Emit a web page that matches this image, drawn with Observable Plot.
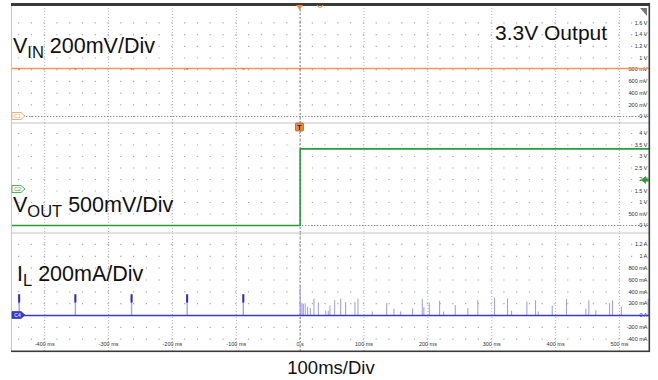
<!DOCTYPE html>
<html><head><meta charset="utf-8">
<script src="https://cdn.jsdelivr.net/npm/d3@7"></script>
<script src="https://cdn.jsdelivr.net/npm/@observablehq/plot@0.6"></script>
<style>
body{margin:0;background:#fff;font-family:"Liberation Sans",Arial,sans-serif;}
#wrap{position:relative;width:658px;height:380px;overflow:hidden;background:#fff;}
</style></head><body><div id="wrap"></div>
<script>
// ---------- data ----------
const timeDomain = [-452, 547];
const timeTicks = [-400, -300, -200, -100, 0, 100, 200, 300, 400, 500];
const timeTickLabels = ["-400 ms", "-300 ms", "-200 ms", "-100 ms", "0 s", "100 ms", "200 ms", "300 ms", "400 ms", "500 ms"];

const vinTicks = [0, 0.2, 0.4, 0.6, 0.8, 1.0, 1.2, 1.4, 1.6];
const vinTickLabels = ["0 V", "200 mV", "400 mV", "600 mV", "800 mV", "1 V", "1.2 V", "1.4 V", "1.6 V"];
const vinTimes = [-452, 547];
const vinValues = [0.82, 0.82];
const vinDipTimes = [-440, -352, -264, -177, -89, 0];
const vinDipLow = 0.79;

const voutTicks = [0, 0.5, 1, 1.5, 2, 2.5, 3, 3.5, 4];
const voutTickLabels = ["0 V", "500 mV", "1 V", "1.5 V", "2 V", "2.5 V", "3 V", "3.5 V", "4 V"];
const voutTimes = [-452, 0, 0, 547];
const voutValues = [0, 0, 3.33, 3.33];

const ilTicks = [-0.4, -0.2, 0, 0.2, 0.4, 0.6, 0.8, 1.0, 1.2];
const ilTickLabels = ["-400 mA", "-200 mA", "0 A", "200 mA", "400 mA", "600 mA", "800 mA", "1 A", "1.2 A"];
const ilPreSpikeTimes = [-440, -352, -264, -177, -89];
const ilPreSpikeHeights = [0.35, 0.35, 0.35, 0.35, 0.35];
const ilPreSpikeDarkFrom = 0.21;
const ilSpikeTimes = [0, 1, 3, 5, 8, 11.7, 16, 21.6, 28.5, 40, 44, 46.6, 54, 63.4, 71.2, 85.8, 90.5, 113, 135.4, 146.8, 157.3, 176, 191.2, 193.7, 202.2, 218.3, 224.6, 242.9, 262.6, 278.2, 304.4, 324.7, 331, 355, 368.5, 372.8, 394.7, 417, 447.3, 452, 463, 484.4, 489, 503, 545];
const ilSpikeHeights = [0.50, 0.21, 0.20, 0.19, 0.20, 0.14, 0.12, 0.28, 0.21, 0.07, 0.07, 0.16, 0.25, 0.28, 0.22, 0.22, 0.28, 0.06, 0.20, 0.11, 0.06, 0.11, 0.27, 0.13, 0.21, 0.24, 0.06, 0.17, 0.12, 0.25, 0.29, 0.28, 0.07, 0.23, 0.25, 0.06, 0.16, 0.27, 0.11, 0.25, 0.08, 0.20, 0.25, 0.14, 0.27];

// ---------- colors ----------
const ORANGE = "#f4975c", GREEN = "#2a9c38", BLUE = "#3a3ac6", SPIKE = "#a3a3ea";

const wrap = document.getElementById("wrap");
const W = 658, ML = 11, MR = 9;

function panel({top, height, marginTop = 0, yDomain, ticks, labels, marks, showTime}) {
  const svg = Plot.plot({
    width: W, height, marginLeft: ML, marginRight: MR, marginTop, marginBottom: 0,
    x: {domain: timeDomain, axis: null},
    y: {domain: yDomain, axis: null},
    style: {background: "transparent", fontFamily: "'Liberation Sans', Arial, sans-serif", overflow: "visible"},
    marks: [
      Plot.gridY(ticks, {stroke: "#a8a8a8", strokeOpacity: 1, strokeWidth: 1.2, strokeDasharray: "1.2,11.57", strokeDashoffset: 5.7}),
      Plot.gridX(timeTicks, {stroke: "#b8b8b8", strokeOpacity: 1, strokeWidth: 1, strokeDasharray: "1,2"}),
      Plot.ruleX([0], {stroke: "#888", strokeDasharray: "2,2"}),
      Plot.text(ticks, {y: d => d, text: (d, i) => labels[i], frameAnchor: "right", textAnchor: "end", dx: -2, fontSize: 5.5, fill: "#333"}),
      showTime ? Plot.text(timeTicks, {x: d => d, text: (d, i) => timeTickLabels[i], frameAnchor: "bottom", dy: -6, fontSize: 5.5, fill: "#333"}) : null,
      ...marks
    ]
  });
  svg.style.position = "absolute";
  svg.style.left = "0px";
  svg.style.top = top + "px";
  wrap.appendChild(svg);
}

// Panel 1: VIN
panel({
  top: 0, height: 123, marginTop: 5, yDomain: [-0.1197, 1.897], ticks: vinTicks, labels: vinTickLabels,
  marks: [
    Plot.ruleY([0], {stroke: "#8a8a8a", strokeDasharray: "1.3,1.7"}),
    Plot.line(vinTimes.map((t, i) => ({t, v: vinValues[i]})), {x: "t", y: "v", stroke: ORANGE, strokeWidth: 1.6}),
    Plot.ruleX(vinDipTimes, {x: d => d, y1: () => vinDipLow, y2: () => vinValues[0], stroke: "#e5793a", strokeWidth: 1.8})
  ]
});

// Panel 2: VOUT
panel({
  top: 123, height: 110, yDomain: [-0.348, 4.435], ticks: voutTicks, labels: voutTickLabels,
  marks: [
    Plot.ruleY([0], {stroke: "#8a8a8a", strokeDasharray: "1.3,1.7"}),
    Plot.line(voutTimes.map((t, i) => ({t, v: voutValues[i]})), {x: "t", y: "v", stroke: GREEN, strokeWidth: 1.6})
  ]
});

// Panel 3: IL
const preSpikes = ilPreSpikeTimes.map((t, i) => ({t, a: ilPreSpikeHeights[i]}));
const spikes = ilSpikeTimes.map((t, i) => ({t, a: ilSpikeHeights[i]}));
panel({
  top: 233, height: 118, yDomain: [-0.608, 1.385], ticks: ilTicks, labels: ilTickLabels, showTime: true,
  marks: [
    Plot.ruleX(spikes, {x: "t", y1: () => 0, y2: "a", stroke: SPIKE, strokeWidth: 1.1}),
    Plot.ruleX(preSpikes, {x: "t", y1: () => 0, y2: "a", stroke: SPIKE, strokeWidth: 1.4}),
    Plot.ruleX(preSpikes, {x: "t", y1: () => ilPreSpikeDarkFrom, y2: "a", stroke: "#2c2cb8", strokeWidth: 2}),
    Plot.ruleY([0], {stroke: BLUE, strokeWidth: 1.5})
  ]
});

// ---------- overlay: frame, markers, annotations ----------
const ov = d3.select(wrap).append("svg")
  .attr("width", W).attr("height", 380)
  .style("position", "absolute").style("left", "0px").style("top", "0px")
  .style("font-family", "'Liberation Sans', Arial, sans-serif");

ov.append("line").attr("x1", 11.5).attr("x2", 11.5).attr("y1", 5).attr("y2", 351).attr("stroke", "#c8c8c8");
ov.append("line").attr("x1", 11).attr("x2", 649).attr("y1", 123).attr("y2", 123).attr("stroke", "#c4c4c4");
ov.append("line").attr("x1", 11).attr("x2", 649).attr("y1", 233).attr("y2", 233).attr("stroke", "#c4c4c4");
ov.append("rect").attr("x", 11).attr("y", 3).attr("width", 639).attr("height", 3).attr("fill", "#3a3a3a");
ov.append("rect").attr("x", 648.5).attr("y", 3).attr("width", 1.6).attr("height", 349).attr("fill", "#3a3a3a");
ov.append("rect").attr("x", 11).attr("y", 350.5).attr("width", 639).attr("height", 1.6).attr("fill", "#3a3a3a");
// corner icon
ov.append("path").attr("d", "M640,8 L647,8 L647,16 Z").attr("fill", "#777");

// trigger markers
ov.append("path").attr("d", "M296,5 L303,5 L299.5,10 Z").attr("fill", "#f08a3c");
ov.append("path").attr("d", "M317,5 Q320,10 323,5").attr("fill", "none").attr("stroke", "#f08a3c").attr("stroke-width", 1.2);
ov.append("rect").attr("x", 295.5).attr("y", 123).attr("width", 8).attr("height", 8).attr("rx", 1).attr("fill", "#f08a3c").attr("stroke", "#8a4a10").attr("stroke-width", 0.6);
ov.append("text").attr("x", 299.5).attr("y", 129.6).attr("text-anchor", "middle").attr("font-size", 7).attr("font-weight", "bold").attr("fill", "#222").text("T");

// channel tags
function tag(y, color, label, filled) {
  ov.append("path").attr("d", `M12,${y - 3.5} L21,${y - 3.5} L25,${y} L21,${y + 3.5} L12,${y + 3.5} Z`)
    .attr("fill", filled ? color : "#fff").attr("stroke", color).attr("stroke-width", 0.8);
  ov.append("text").attr("x", 17.5).attr("y", y + 1.8).attr("text-anchor", "middle").attr("font-size", 5)
    .attr("fill", filled ? "#fff" : color).text(label);
}
tag(116, ORANGE, "C1", false);
tag(189, GREEN, "C2", false);
tag(315, BLUE, "C4", true);
// green offset arrow
ov.append("path").attr("d", "M641,180 L646,176 L646,178.5 L649,178.5 L649,181.5 L646,181.5 L646,184 Z").attr("fill", GREEN);

// annotations
function label(x, y, main, sub, rest) {
  const t = ov.append("text").attr("x", x).attr("y", y).attr("fill", "#111").attr("font-size", 21.5);
  t.append("tspan").text(main);
  t.append("tspan").attr("dy", 5).attr("font-size", 16.5).text(sub);
  t.append("tspan").attr("dy", -5).text(" " + rest);
}
label(13, 53, "V", "IN", "200mV/Div");
label(13, 212, "V", "OUT", "500mV/Div");
label(17, 281, "I", "L", "200mA/Div");
ov.append("text").attr("x", 495).attr("y", 40).attr("font-size", 21).attr("fill", "#111").text("3.3V Output");
ov.append("text").attr("x", 331).attr("y", 374).attr("text-anchor", "middle").attr("font-size", 18.5).attr("fill", "#111").text("100ms/Div");
</script></body></html>
